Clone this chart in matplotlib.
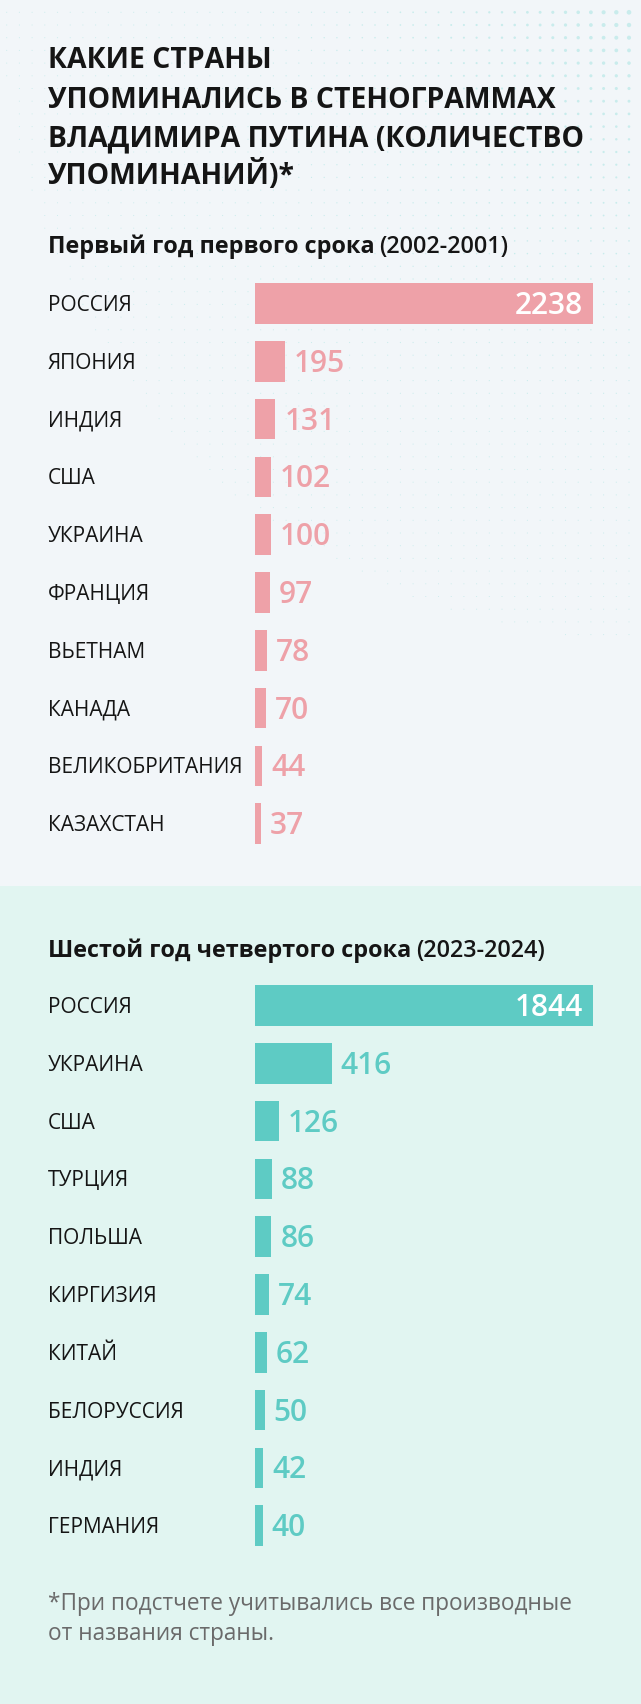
import matplotlib
matplotlib.use("Agg")
import matplotlib.pyplot as plt
import matplotlib.transforms as mtransforms
from matplotlib.patches import Rectangle
import numpy as np

# ---------------- data ----------------
title_lines = ["КАКИЕ СТРАНЫ", "УПОМИНАЛИСЬ В СТЕНОГРАММАХ",
               "ВЛАДИМИРА ПУТИНА (КОЛИЧЕСТВО", "УПОМИНАНИЙ)*"]

sub1_main = "Первый год первого срока"
sub1_years = "(2002-2001)"
countries1 = ["РОССИЯ", "ЯПОНИЯ", "ИНДИЯ", "США", "УКРАИНА", "ФРАНЦИЯ",
              "ВЬЕТНАМ", "КАНАДА", "ВЕЛИКОБРИТАНИЯ", "КАЗАХСТАН"]
values1 = [2238, 195, 131, 102, 100, 97, 78, 70, 44, 37]

sub2_main = "Шестой год четвертого срока"
sub2_years = "(2023-2024)"
countries2 = ["РОССИЯ", "УКРАИНА", "США", "ТУРЦИЯ", "ПОЛЬША", "КИРГИЗИЯ",
              "КИТАЙ", "БЕЛОРУССИЯ", "ИНДИЯ", "ГЕРМАНИЯ"]
values2 = [1844, 416, 126, 88, 86, 74, 62, 50, 42, 40]

footnote_lines = ["*При подстчете учитывались все производные",
                  "от названия страны."]

# ---------------- style ----------------
W, H = 641, 1704
DPI = 100
FONT = "Open Sans"
BG_TOP = "#f2f6f9"
BG_BOT = "#e1f5f1"
DOT = "#c9ecec"
PINK = "#eea1a8"
TEAL = "#5ecbc4"
INK = "#151515"
GREY = "#6a6a6a"

fig = plt.figure(figsize=(W / DPI, H / DPI), dpi=DPI)
fig.patch.set_facecolor(BG_TOP)


def fx(px):
    return px / W


def fy(py):
    return 1 - py / H


# backgrounds
fig.add_artist(Rectangle((0, fy(886)), 1, 886 / H, transform=fig.transFigure,
                         facecolor=BG_TOP, edgecolor="none", zorder=0))
fig.add_artist(Rectangle((0, 0), 1, fy(886), transform=fig.transFigure,
                         facecolor=BG_BOT, edgecolor="none", zorder=0))

# decorative halftone dots in the top panel (fading from the top-right corner)
deco = fig.add_axes([0, fy(886), 1, 886 / H], zorder=0.5)
deco.set_xlim(0, W)
deco.set_ylim(886, 0)
deco.axis("off")
gx = np.arange(6.7, W, 12.7)
gy = np.arange(12.3, 886, 12.7)
XX, YY = np.meshgrid(gx, gy)
dist = np.hypot(W - XX, YY)
diam = 1.0 + 4.2 * np.exp(-dist / 130)
mask = dist < 640
deco.scatter(XX[mask], YY[mask], s=(diam[mask] * 0.72) ** 2, color=DOT,
             linewidths=0, zorder=1)

# title
for i, (line, base) in enumerate(zip(title_lines, [68.5, 107.5, 146, 184.5])):
    fig.text(fx(48), fy(base), line, family=FONT, weight="bold", fontsize=20.4,
             color=INK, va="baseline", ha="left", zorder=5)

renderer = fig.canvas.get_renderer()


def subtitle(main, years, base):
    t = fig.text(fx(48), fy(base), main, family=FONT, weight="bold",
                 fontsize=16.8, color=INK, va="baseline", ha="left", zorder=5)
    bb = t.get_window_extent(renderer)
    fig.text(fx(bb.x1 + 5), fy(base), years, family=FONT, weight="semibold",
             fontsize=16.8, color=INK, va="baseline", ha="left", zorder=5)


ROW = 57.8
BAR_L, BAR_R = 255.5, 593.5


def panel(countries, values, color, first_center):
    top = first_center - ROW / 2
    bot = first_center + (len(values) - 0.5) * ROW
    ax = fig.add_axes([fx(BAR_L), fy(bot), (BAR_R - BAR_L) / W, (bot - top) / H],
                      zorder=3)
    ax.set_xlim(0, max(values))
    ax.set_ylim(len(values) - 0.5, -0.5)
    ax.axis("off")
    y = np.arange(len(values))
    ax.barh(y, values, height=0.70, color=color, linewidth=0)
    lab_tr = mtransforms.blended_transform_factory(fig.transFigure, ax.transData)
    lab_tr = mtransforms.offset_copy(lab_tr, fig=fig, y=-7.5, units="dots")
    for i, (c, v) in enumerate(zip(countries, values)):
        ax.text(fx(48), i, c, transform=lab_tr, family=FONT, fontsize=15.0,
                color=INK, va="baseline", ha="left", clip_on=False)
        if v == max(values):
            tr = mtransforms.offset_copy(ax.transData, fig=fig, x=-11, y=-10.5,
                                         units="dots")
            ax.text(v, i, f"{v}", transform=tr, family=FONT, weight="semibold",
                    fontsize=21.5, color="white", va="baseline", ha="right",
                    clip_on=False)
        else:
            tr = mtransforms.offset_copy(ax.transData, fig=fig, x=9, y=-10.5,
                                         units="dots")
            ax.text(v, i, f"{v}", transform=tr, family=FONT, weight="semibold",
                    fontsize=21.5, color=color, va="baseline", ha="left",
                    clip_on=False)
    return ax


subtitle(sub1_main, sub1_years, 253)
panel(countries1, values1, PINK, 303.5)

subtitle(sub2_main, sub2_years, 957)
panel(countries2, values2, TEAL, 1005.5)

for line, base in zip(footnote_lines, [1610.5, 1640.5]):
    fig.text(fx(48), fy(base), line, family=FONT, fontsize=16.3, color=GREY,
             va="baseline", ha="left", zorder=5)

fig.savefig("out.png", dpi=DPI, facecolor=fig.get_facecolor())
